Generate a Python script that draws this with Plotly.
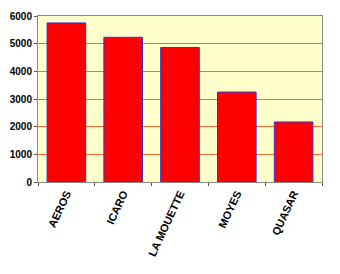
import plotly.graph_objects as go

categories = ["AEROS", "ICARO", "LA MOUETTE", "MOYES", "QUASAR"]
values = [5750, 5230, 4860, 3250, 2170]

fig = go.Figure(go.Bar(
    x=categories, y=values,
    marker=dict(color="#FF0000", line=dict(color="#3333CC", width=1)),
))
fig.update_layout(
    width=340, height=274,
    margin=dict(l=36, r=18, t=10, b=92),
    paper_bgcolor="white", plot_bgcolor="#FFFFCC",
    bargap=0.32, showlegend=False,
    font=dict(family="Liberation Sans, Arial", size=10, color="black"),
)
fig.update_yaxes(
    range=[0, 6000], dtick=1000, showgrid=True, gridcolor="#FF6633", gridwidth=1,
    showline=True, linecolor="#888888", linewidth=1, mirror=True,
    ticks="outside", ticklen=3, tickcolor="#555555",
    tickfont=dict(family="Liberation Sans, Arial", size=10, color="black", weight="bold"),
    zeroline=False,
)
fig.update_xaxes(
    showline=True, linecolor="#888888", linewidth=1, mirror=True,
    ticks="outside", ticklen=3, tickcolor="#555555", tickson="boundaries",
    tickangle=-65,
    tickfont=dict(family="Liberation Sans, Arial", size=11, color="black", weight="bold"),
)
fig.write_html("out.html")
